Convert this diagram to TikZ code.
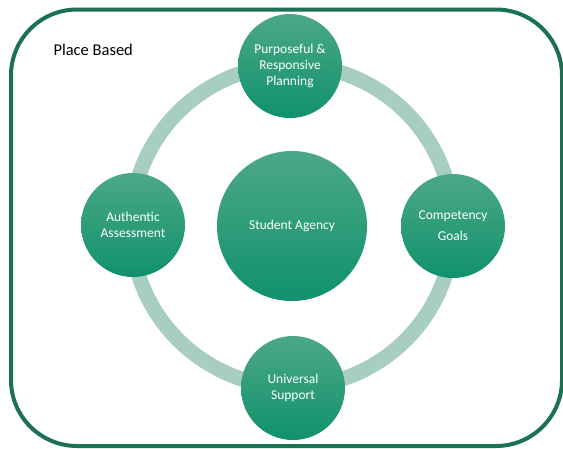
\documentclass[tikz,border=0pt]{standalone}
\usepackage{fontspec}
\setmainfont{Carlito}
\definecolor{frame}{RGB}{27,112,85}
\definecolor{ring}{RGB}{168,206,191}
\definecolor{discTop}{RGB}{76,168,134}
\definecolor{discBot}{RGB}{16,145,109}
\tikzset{
  disc/.style={circle,minimum size=104pt,inner sep=0pt,align=center,
    top color=discTop,bottom color=discBot,text=white,font=\fontsize{13.5}{16}\selectfont},
}

\begin{document}
\begin{tikzpicture}[x=1pt,y=-1pt]
	\useasboundingbox (0,0) rectangle (563,448);
	\draw [frame,line width=4pt,rounded corners=66pt] (11,9.5) rectangle (562,446);
	\node [anchor=west,font=\fontsize{16.5}{20}\selectfont] (place) at (50,50) {Place Based};
	\coordinate (hub) at (292,226);
	\draw [ring,line width=15pt] (hub) circle (161);
	\node [disc,minimum size=150pt] (agency) at (hub) {Student Agency};
	\node [disc] (planning) at (290,66) {Purposeful \&\\Responsive\\Planning};
	\node [disc] (goals) at (453,226) {Competency\\[5pt]Goals};
	\node [disc] (support) at (293,388) {Universal\\Support};
	\node [disc] (assessment) at (133,225) {Authentic\\Assessment};
\end{tikzpicture}
\end{document}
